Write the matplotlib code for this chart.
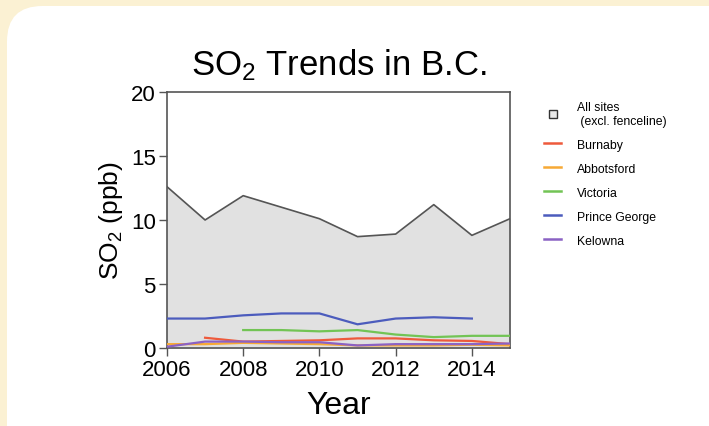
import numpy as np
import matplotlib
matplotlib.use("Agg")
import matplotlib.pyplot as plt
from matplotlib.patches import FancyBboxPatch
from matplotlib.lines import Line2D

plt.rcParams['font.family'] = ['Liberation Sans', 'DejaVu Sans']
plt.rcParams['mathtext.fontset'] = 'custom'
plt.rcParams['mathtext.rm'] = 'Liberation Sans'
plt.rcParams['mathtext.it'] = 'Liberation Sans'

years = list(range(2006, 2016))
all_sites = [12.6, 10.0, 11.9, 11.0, 10.1, 8.7, 8.9, 11.2, 8.8, 10.1]

# station series (None = no data)
burnaby = [None, 0.8, 0.5, 0.55, 0.6, 0.75, 0.75, 0.6, 0.55, 0.3]
abbotsford = [0.3, 0.3, 0.4, 0.35, 0.3, 0.2, 0.2, 0.2, 0.25, 0.2]
victoria = [None, None, 1.4, 1.4, 1.3, 1.4, 1.05, 0.85, 0.95, 0.95]
prince_george = [2.3, 2.3, 2.55, 2.7, 2.7, 1.85, 2.3, 2.4, 2.3, None]
kelowna = [0.1, 0.5, 0.5, 0.45, 0.45, 0.2, 0.3, 0.3, 0.3, 0.35]

site_names = ['Burnaby', 'Abbotsford', 'Victoria', 'Prince George', 'Kelowna']
site_values = [burnaby, abbotsford, victoria, prince_george, kelowna]
site_colors = ['#ee5a3c', '#f7a935', '#72c455', '#4c5cbd', '#8b62c4']

fig = plt.figure(figsize=(7.09, 4.27), dpi=100)
fig.patch.set_facecolor('#fbf1d3')

# white rounded panel behind the chart
panel = FancyBboxPatch((7 / 709, -0.2), 1.2, 1.2 - 7 / 427,
                       boxstyle="round,pad=0,rounding_size=0.05",
                       transform=fig.transFigure, facecolor='white',
                       edgecolor='none', zorder=-5, mutation_aspect=709 / 427)
fig.patches.append(panel)

ax = fig.add_axes([0.2355, 0.1827, 0.4838, 0.5995])
ax.set_zorder(2)
ax.set_facecolor('white')

ax.fill_between(years, all_sites, 0, color='#e1e1e1', zorder=1)
ax.plot(years, all_sites, color='#555555', lw=1.2, zorder=2)

for name, vals, col in zip(site_names, site_values, site_colors):
    y = np.array([np.nan if v is None else v for v in vals], dtype=float)
    ax.plot(years, y, color=col, lw=1.6, zorder=3)

ax.set_xlim(2006, 2015)
ax.set_ylim(0, 20)
ax.set_xticks([2006, 2008, 2010, 2012, 2014])
ax.set_yticks([0, 5, 10, 15, 20])
ax.tick_params(labelsize=16, length=6, width=1, color='#555555', pad=2)
for s in ax.spines.values():
    s.set_color('#555555')
    s.set_linewidth(1.2)

ax.set_xlabel('Year', fontsize=23, labelpad=7)
ax.set_ylabel('SO$_2$ (ppb)', fontsize=19, labelpad=4)
ax.set_title('SO$_2$ Trends in B.C.', fontsize=25, pad=13)

handles = [Line2D([], [], marker='s', ls='none', markersize=6,
                  markerfacecolor='#e8e8e8', markeredgecolor='#333333')]
labels = ['All sites\n (excl. fenceline)']
for name, col in zip(site_names, site_colors):
    handles.append(Line2D([], [], color=col, lw=1.8))
    labels.append(name)

leg = fig.legend(handles, labels, loc='upper left', bbox_to_anchor=(0.752, 0.787),
                 frameon=False, fontsize=8.8, handlelength=1.4, handletextpad=1.3,
                 labelspacing=0.98)
leg.set_zorder(3)

fig.savefig('out.png', dpi=100, facecolor=fig.get_facecolor())
